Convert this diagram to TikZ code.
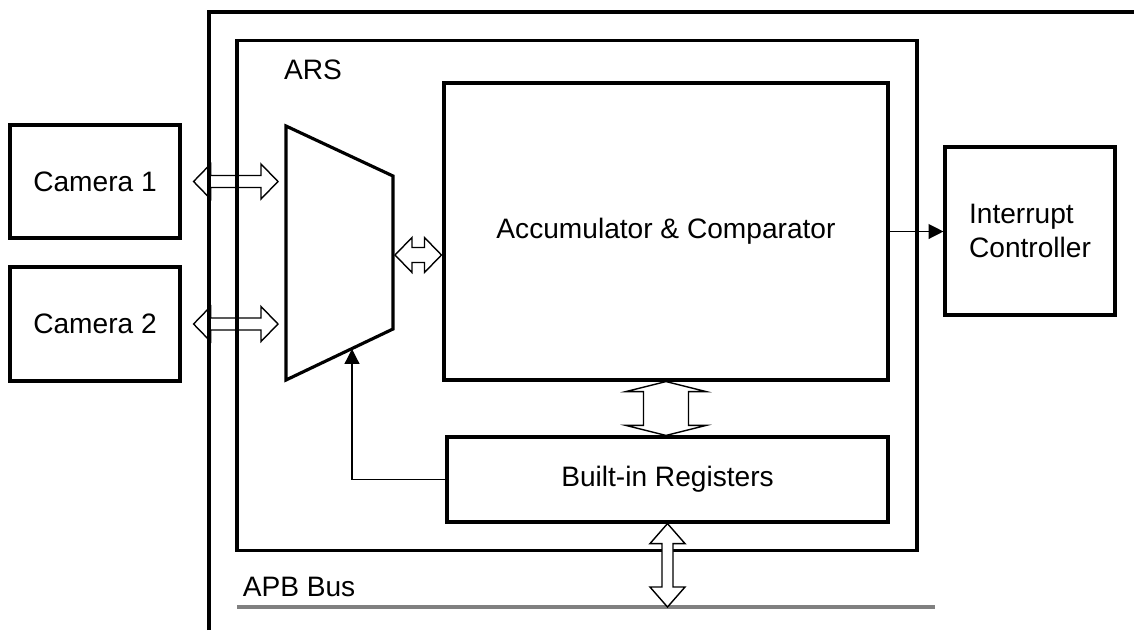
\documentclass[tikz,border=0pt]{standalone}
\usepackage{fontspec}
\setmainfont{Liberation Sans}
\usetikzlibrary{positioning,calc,arrows.meta}

\definecolor{busgray}{RGB}{128,128,128}

% hollow double arrow between two points: [opts]{from}{to}{head length}{head half width}{shaft half width}
\newcommand{\blockarrow}[6][]{%
  \draw[bus,#1] (#2) -- ($(#2)!#4!(#3)!#5!90:(#3)$) -- ($(#2)!#4!(#3)!#6!90:(#3)$)
    -- ($(#3)!#4!(#2)!#6!-90:(#2)$) -- ($(#3)!#4!(#2)!#5!-90:(#2)$) -- (#3)
    -- ($(#3)!#4!(#2)!#5!90:(#2)$) -- ($(#3)!#4!(#2)!#6!90:(#2)$)
    -- ($(#2)!#4!(#3)!#6!-90:(#3)$) -- ($(#2)!#4!(#3)!#5!-90:(#3)$) -- cycle;}

\begin{document}
\begin{tikzpicture}[x=0.02cm, y=-0.02cm,
    every node/.style={font=\fontsize{16}{19}\selectfont},
    box/.style={draw, line width=1.8pt},
    wire/.style={line width=0.75pt, -{Triangle[length=8.5pt,width=8.5pt]}},
    bus/.style={draw, line width=0.8pt, line join=miter}]
  \useasboundingbox (0,0) rectangle (1134,630);

  % system frame
  \draw[line width=1.8pt] (209,630) -- (209,12) -- (1134,12);

  \node[box, minimum width=13.6cm, minimum height=10.2cm] (ars) at (577,295.5) {};
  \node (arslbl) at (313,70) {ARS};

  \node[box, minimum width=3.4cm, minimum height=2.26cm] (cam1) at (95,181.5) {Camera 1};
  \node[box, minimum width=3.4cm, minimum height=2.28cm] (cam2) at (95,324) {Camera 2};
  \node[box, minimum width=8.88cm, minimum height=5.94cm] (acc) at (666,231.5) {Accumulator \& Comparator};
  \node[box, minimum width=8.82cm, minimum height=1.7cm] (reg) at (667.5,479.5) {Built-in Registers};
  \node[box, minimum width=3.4cm, minimum height=3.36cm, align=left] (irq) at (1030,231) {Interrupt\\Controller};

  % mux
  \coordinate (muxtl) at (286,126);
  \coordinate (muxtr) at (393,176);
  \coordinate (muxbr) at (393,329);
  \coordinate (muxbl) at (286,380);
  \coordinate (muxout) at (395,255);
  \coordinate (muxsel) at (352,349);
  \draw[box] (muxtl) -- (muxtr) -- (muxbr) -- (muxbl) -- cycle;

  % APB bus
  \coordinate (busl) at (237,607);
  \coordinate (busr) at (935,607);
  \draw[busgray, line width=2.8pt] (busl) -- (busr);
  \node (apblbl) at (299,587) {APB Bus};

  % data paths
  \coordinate (c1a) at ($(cam1.east)+(12,0)$);
  \coordinate (c1b) at ($(cam1.east -| muxtl)+(-8,0)$);
  \coordinate (c2a) at ($(cam2.east)+(12,0)$);
  \coordinate (c2b) at ($(cam2.east -| muxtl)+(-8,0)$);
  \coordinate (accin) at ($(muxout -| acc.west)+(-1,0)$);
  \coordinate (regtop) at (acc.south |- reg.north);
  \coordinate (busin) at (reg.south |- busl);
  \blockarrow{c1a}{c1b}{0.34cm}{0.35cm}{0.12cm}
  \blockarrow{c2a}{c2b}{0.34cm}{0.35cm}{0.12cm}
  \blockarrow{muxout}{accin}{0.34cm}{0.35cm}{0.15cm}
  \blockarrow{acc.south}{regtop}{0.2cm}{0.8cm}{0.45cm}
  \blockarrow[fill=white]{reg.south}{busin}{0.4cm}{0.35cm}{0.11cm}

  % control
  \draw[wire] (reg.west) -| (muxsel);
  \draw[wire] (acc.east) -- (acc.east -| irq.west);
\end{tikzpicture}
\end{document}
